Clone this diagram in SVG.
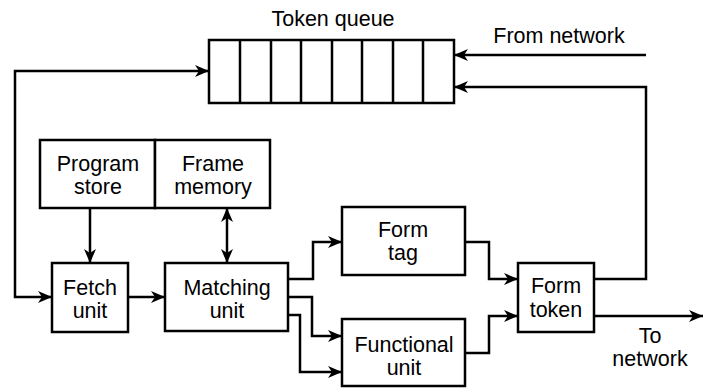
<svg xmlns="http://www.w3.org/2000/svg" width="705" height="388" viewBox="0 0 705 388">
  <style>
    .box { fill: #fff; stroke: #000; stroke-width: 2.5; }
    .cell { stroke: #000; stroke-width: 2.5; }
    .wire { fill: none; stroke: #000; stroke-width: 2.5; }
    text { font-family: "Liberation Sans", Arial, sans-serif; font-size: 21.5px; fill: #000; text-anchor: middle; }
  </style>
  <defs>
    <marker id="arrow" viewBox="0 0 14 12" refX="14" refY="6" markerWidth="14" markerHeight="12" markerUnits="userSpaceOnUse" orient="auto-start-reverse">
      <path d="M0,0 L14,6 L0,12 L4,6 Z" fill="#000"/>
    </marker>
  </defs>

  <g id="token-queue">
    <rect class="box" x="209" y="40" width="245" height="63"/>
    <line class="cell" x1="240" y1="40" x2="240" y2="103"/>
    <line class="cell" x1="271" y1="40" x2="271" y2="103"/>
    <line class="cell" x1="301" y1="40" x2="301" y2="103"/>
    <line class="cell" x1="332" y1="40" x2="332" y2="103"/>
    <line class="cell" x1="362" y1="40" x2="362" y2="103"/>
    <line class="cell" x1="393" y1="40" x2="393" y2="103"/>
    <line class="cell" x1="423" y1="40" x2="423" y2="103"/>
    <text x="333" y="26">Token queue</text>
  </g>

  <g id="program-store">
    <rect class="box" x="40" y="140" width="115" height="68"/>
    <text x="98" y="171">Program</text>
    <text x="98" y="194">store</text>
  </g>

  <g id="frame-memory">
    <rect class="box" x="155" y="140" width="115" height="68"/>
    <text x="213" y="171">Frame</text>
    <text x="213" y="194">memory</text>
  </g>

  <g id="fetch-unit">
    <rect class="box" x="52" y="263" width="76" height="69"/>
    <text x="90" y="295">Fetch</text>
    <text x="90" y="318">unit</text>
  </g>

  <g id="matching-unit">
    <rect class="box" x="165" y="263" width="123" height="68"/>
    <text x="227" y="295">Matching</text>
    <text x="227" y="318">unit</text>
  </g>

  <g id="form-tag">
    <rect class="box" x="342" y="207" width="123" height="68"/>
    <text x="403" y="237">Form</text>
    <text x="403" y="260">tag</text>
  </g>

  <g id="functional-unit">
    <rect class="box" x="342" y="319" width="123" height="67"/>
    <text x="404" y="352">Functional</text>
    <text x="404" y="375">unit</text>
  </g>

  <g id="form-token">
    <rect class="box" x="518" y="263" width="76" height="69"/>
    <text x="556" y="293">Form</text>
    <text x="556" y="317">token</text>
  </g>

  <g id="labels">
    <text x="559" y="43">From network</text>
    <text x="650" y="343">To</text>
    <text x="650" y="366">network</text>
  </g>

  <g id="connectors">
    <!-- network input into the queue -->
    <path class="wire" d="M646,55 H454" marker-end="url(#arrow)"/>
    <!-- form token feedback into the queue -->
    <path class="wire" d="M594,279 H646 V87 H454" marker-end="url(#arrow)"/>
    <!-- loop from queue output to fetch unit -->
    <path class="wire" d="M209,71 H15 V297 H52" marker-start="url(#arrow)" marker-end="url(#arrow)"/>
    <!-- program store to fetch unit -->
    <path class="wire" d="M90,208 V263" marker-end="url(#arrow)"/>
    <!-- frame memory <-> matching unit -->
    <path class="wire" d="M227,208 V263" marker-start="url(#arrow)" marker-end="url(#arrow)"/>
    <!-- fetch to matching -->
    <path class="wire" d="M128,297 H165" marker-end="url(#arrow)"/>
    <!-- matching to form tag -->
    <path class="wire" d="M288,279 H313 V242 H342" marker-end="url(#arrow)"/>
    <!-- matching to functional unit (two operands) -->
    <path class="wire" d="M288,297 H312 V336 H342" marker-end="url(#arrow)"/>
    <path class="wire" d="M288,315 H300 V372 H342" marker-end="url(#arrow)"/>
    <!-- form tag to form token -->
    <path class="wire" d="M465,242 H489 V279 H518" marker-end="url(#arrow)"/>
    <!-- functional unit to form token -->
    <path class="wire" d="M465,353 H489 V316 H518" marker-end="url(#arrow)"/>
    <!-- form token out to network -->
    <path class="wire" d="M594,316 H703" marker-end="url(#arrow)"/>
  </g>
</svg>
